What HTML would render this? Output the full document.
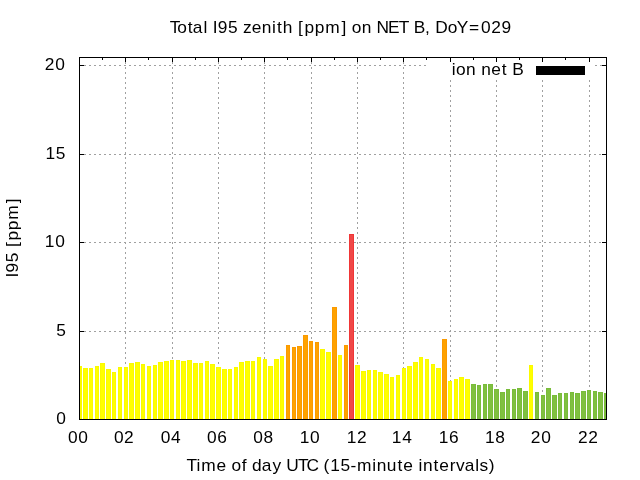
<!DOCTYPE html><html><head><meta charset="utf-8"><style>html,body{margin:0;padding:0;background:#fff;width:640px;height:480px;overflow:hidden}svg{display:block;will-change:transform}text{font-family:"Liberation Sans",sans-serif;fill:#000}</style></head><body>
<svg width="640" height="480" viewBox="0 0 640 480">
<rect x="0" y="0" width="640" height="480" fill="#fff"/>
<line x1="79" y1="154.5" x2="606" y2="154.5" stroke="#a0a0a0" stroke-width="1" stroke-dasharray="2 3"/>
<line x1="79" y1="242.5" x2="606" y2="242.5" stroke="#a0a0a0" stroke-width="1" stroke-dasharray="2 3"/>
<line x1="79" y1="331.5" x2="606" y2="331.5" stroke="#a0a0a0" stroke-width="1" stroke-dasharray="2 3"/>
<line x1="79" y1="65.5" x2="427" y2="65.5" stroke="#a0a0a0" stroke-width="1" stroke-dasharray="2 3"/>
<line x1="595" y1="65.5" x2="606" y2="65.5" stroke="#a0a0a0" stroke-width="1" stroke-dasharray="2 3"/>
<line x1="125.5" y1="57" x2="125.5" y2="419" stroke="#a0a0a0" stroke-width="1" stroke-dasharray="2 3"/>
<line x1="172.5" y1="57" x2="172.5" y2="419" stroke="#a0a0a0" stroke-width="1" stroke-dasharray="2 3"/>
<line x1="218.5" y1="57" x2="218.5" y2="419" stroke="#a0a0a0" stroke-width="1" stroke-dasharray="2 3"/>
<line x1="264.5" y1="57" x2="264.5" y2="419" stroke="#a0a0a0" stroke-width="1" stroke-dasharray="2 3"/>
<line x1="311.5" y1="57" x2="311.5" y2="419" stroke="#a0a0a0" stroke-width="1" stroke-dasharray="2 3"/>
<line x1="357.5" y1="57" x2="357.5" y2="419" stroke="#a0a0a0" stroke-width="1" stroke-dasharray="2 3"/>
<line x1="403.5" y1="57" x2="403.5" y2="419" stroke="#a0a0a0" stroke-width="1" stroke-dasharray="2 3"/>
<line x1="450.5" y1="80" x2="450.5" y2="419" stroke="#a0a0a0" stroke-width="1" stroke-dasharray="2 3"/>
<line x1="496.5" y1="80" x2="496.5" y2="419" stroke="#a0a0a0" stroke-width="1" stroke-dasharray="2 3"/>
<line x1="542.5" y1="80" x2="542.5" y2="419" stroke="#a0a0a0" stroke-width="1" stroke-dasharray="2 3"/>
<line x1="589.5" y1="80" x2="589.5" y2="419" stroke="#a0a0a0" stroke-width="1" stroke-dasharray="2 3"/>
<path d="M80 65.5H84M606 65.5H602M80 154.5H84M606 154.5H602M80 242.5H84M606 242.5H602M80 331.5H84M606 331.5H602M102.5 57V60M125.5 57V62M148.5 57V60M172.5 57V62M195.5 57V60M218.5 57V62M241.5 57V60M264.5 57V62M287.5 57V60M311.5 57V62M334.5 57V60M357.5 57V62M380.5 57V60M403.5 57V62M426.5 57V60M450.5 57V62M473.5 57V60M496.5 57V62M519.5 57V60M542.5 57V62M565.5 57V60M589.5 57V62" stroke="#000" stroke-width="1" fill="none"/>
<rect x="80" y="366" width="2" height="53" fill="#fafa00"/>
<rect x="83" y="368" width="5" height="51" fill="#fafa00"/>
<rect x="84" y="369" width="3" height="50" fill="#ffff00"/>
<rect x="89" y="368" width="4" height="51" fill="#fafa00"/>
<rect x="90" y="369" width="2" height="50" fill="#ffff00"/>
<rect x="95" y="366" width="4" height="53" fill="#fafa00"/>
<rect x="96" y="367" width="2" height="52" fill="#ffff00"/>
<rect x="100" y="363" width="5" height="56" fill="#fafa00"/>
<rect x="101" y="364" width="3" height="55" fill="#ffff00"/>
<rect x="106" y="369" width="5" height="50" fill="#fafa00"/>
<rect x="107" y="370" width="3" height="49" fill="#ffff00"/>
<rect x="112" y="372" width="4" height="47" fill="#fafa00"/>
<rect x="113" y="373" width="2" height="46" fill="#ffff00"/>
<rect x="118" y="367" width="4" height="52" fill="#fafa00"/>
<rect x="119" y="368" width="2" height="51" fill="#ffff00"/>
<rect x="124" y="367" width="4" height="52" fill="#fafa00"/>
<rect x="125" y="368" width="2" height="51" fill="#ffff00"/>
<rect x="129" y="363" width="5" height="56" fill="#fafa00"/>
<rect x="130" y="364" width="3" height="55" fill="#ffff00"/>
<rect x="135" y="362" width="5" height="57" fill="#fafa00"/>
<rect x="136" y="363" width="3" height="56" fill="#ffff00"/>
<rect x="141" y="364" width="4" height="55" fill="#fafa00"/>
<rect x="142" y="365" width="2" height="54" fill="#ffff00"/>
<rect x="147" y="366" width="4" height="53" fill="#fafa00"/>
<rect x="148" y="367" width="2" height="52" fill="#ffff00"/>
<rect x="153" y="365" width="4" height="54" fill="#fafa00"/>
<rect x="154" y="366" width="2" height="53" fill="#ffff00"/>
<rect x="158" y="362" width="5" height="57" fill="#fafa00"/>
<rect x="159" y="363" width="3" height="56" fill="#ffff00"/>
<rect x="164" y="361" width="5" height="58" fill="#fafa00"/>
<rect x="165" y="362" width="3" height="57" fill="#ffff00"/>
<rect x="170" y="360" width="4" height="59" fill="#fafa00"/>
<rect x="171" y="361" width="2" height="58" fill="#ffff00"/>
<rect x="176" y="360" width="4" height="59" fill="#fafa00"/>
<rect x="177" y="361" width="2" height="58" fill="#ffff00"/>
<rect x="181" y="361" width="5" height="58" fill="#fafa00"/>
<rect x="182" y="362" width="3" height="57" fill="#ffff00"/>
<rect x="187" y="360" width="5" height="59" fill="#fafa00"/>
<rect x="188" y="361" width="3" height="58" fill="#ffff00"/>
<rect x="193" y="363" width="5" height="56" fill="#fafa00"/>
<rect x="194" y="364" width="3" height="55" fill="#ffff00"/>
<rect x="199" y="363" width="4" height="56" fill="#fafa00"/>
<rect x="200" y="364" width="2" height="55" fill="#ffff00"/>
<rect x="205" y="361" width="4" height="58" fill="#fafa00"/>
<rect x="206" y="362" width="2" height="57" fill="#ffff00"/>
<rect x="210" y="364" width="5" height="55" fill="#fafa00"/>
<rect x="211" y="365" width="3" height="54" fill="#ffff00"/>
<rect x="216" y="367" width="5" height="52" fill="#fafa00"/>
<rect x="217" y="368" width="3" height="51" fill="#ffff00"/>
<rect x="222" y="369" width="5" height="50" fill="#fafa00"/>
<rect x="223" y="370" width="3" height="49" fill="#ffff00"/>
<rect x="228" y="369" width="4" height="50" fill="#fafa00"/>
<rect x="229" y="370" width="2" height="49" fill="#ffff00"/>
<rect x="234" y="367" width="4" height="52" fill="#fafa00"/>
<rect x="235" y="368" width="2" height="51" fill="#ffff00"/>
<rect x="239" y="362" width="5" height="57" fill="#fafa00"/>
<rect x="240" y="363" width="3" height="56" fill="#ffff00"/>
<rect x="245" y="361" width="5" height="58" fill="#fafa00"/>
<rect x="246" y="362" width="3" height="57" fill="#ffff00"/>
<rect x="251" y="361" width="4" height="58" fill="#fafa00"/>
<rect x="252" y="362" width="2" height="57" fill="#ffff00"/>
<rect x="257" y="357" width="4" height="62" fill="#fafa00"/>
<rect x="258" y="358" width="2" height="61" fill="#ffff00"/>
<rect x="263" y="359" width="4" height="60" fill="#fafa00"/>
<rect x="264" y="360" width="2" height="59" fill="#ffff00"/>
<rect x="268" y="366" width="5" height="53" fill="#fafa00"/>
<rect x="269" y="367" width="3" height="52" fill="#ffff00"/>
<rect x="274" y="359" width="5" height="60" fill="#fafa00"/>
<rect x="275" y="360" width="3" height="59" fill="#ffff00"/>
<rect x="280" y="356" width="4" height="63" fill="#fafa00"/>
<rect x="281" y="357" width="2" height="62" fill="#ffff00"/>
<rect x="286" y="345" width="4" height="74" fill="#fa9a00"/>
<rect x="287" y="346" width="2" height="73" fill="#ffa200"/>
<rect x="292" y="347" width="4" height="72" fill="#fa9a00"/>
<rect x="293" y="348" width="2" height="71" fill="#ffa200"/>
<rect x="297" y="346" width="5" height="73" fill="#fa9a00"/>
<rect x="298" y="347" width="3" height="72" fill="#ffa200"/>
<rect x="303" y="335" width="5" height="84" fill="#fa9a00"/>
<rect x="304" y="336" width="3" height="83" fill="#ffa200"/>
<rect x="309" y="341" width="4" height="78" fill="#fa9a00"/>
<rect x="310" y="342" width="2" height="77" fill="#ffa200"/>
<rect x="315" y="342" width="4" height="77" fill="#fa9a00"/>
<rect x="316" y="343" width="2" height="76" fill="#ffa200"/>
<rect x="320" y="349" width="5" height="70" fill="#fafa00"/>
<rect x="321" y="350" width="3" height="69" fill="#ffff00"/>
<rect x="326" y="352" width="5" height="67" fill="#fafa00"/>
<rect x="327" y="353" width="3" height="66" fill="#ffff00"/>
<rect x="332" y="307" width="5" height="112" fill="#fa9a00"/>
<rect x="333" y="308" width="3" height="111" fill="#ffa200"/>
<rect x="338" y="355" width="4" height="64" fill="#fafa00"/>
<rect x="339" y="356" width="2" height="63" fill="#ffff00"/>
<rect x="344" y="345" width="4" height="74" fill="#fa9a00"/>
<rect x="345" y="346" width="2" height="73" fill="#ffa200"/>
<rect x="349" y="234" width="5" height="185" fill="#f03636"/>
<rect x="350" y="235" width="3" height="184" fill="#f04848"/>
<rect x="355" y="365" width="5" height="54" fill="#fafa00"/>
<rect x="356" y="366" width="3" height="53" fill="#ffff00"/>
<rect x="361" y="371" width="5" height="48" fill="#fafa00"/>
<rect x="362" y="372" width="3" height="47" fill="#ffff00"/>
<rect x="367" y="370" width="4" height="49" fill="#fafa00"/>
<rect x="368" y="371" width="2" height="48" fill="#ffff00"/>
<rect x="373" y="370" width="4" height="49" fill="#fafa00"/>
<rect x="374" y="371" width="2" height="48" fill="#ffff00"/>
<rect x="378" y="372" width="5" height="47" fill="#fafa00"/>
<rect x="379" y="373" width="3" height="46" fill="#ffff00"/>
<rect x="384" y="374" width="5" height="45" fill="#fafa00"/>
<rect x="385" y="375" width="3" height="44" fill="#ffff00"/>
<rect x="390" y="377" width="4" height="42" fill="#fafa00"/>
<rect x="391" y="378" width="2" height="41" fill="#ffff00"/>
<rect x="396" y="375" width="4" height="44" fill="#fafa00"/>
<rect x="397" y="376" width="2" height="43" fill="#ffff00"/>
<rect x="402" y="368" width="4" height="51" fill="#fafa00"/>
<rect x="403" y="369" width="2" height="50" fill="#ffff00"/>
<rect x="407" y="366" width="5" height="53" fill="#fafa00"/>
<rect x="408" y="367" width="3" height="52" fill="#ffff00"/>
<rect x="413" y="362" width="5" height="57" fill="#fafa00"/>
<rect x="414" y="363" width="3" height="56" fill="#ffff00"/>
<rect x="419" y="357" width="4" height="62" fill="#fafa00"/>
<rect x="420" y="358" width="2" height="61" fill="#ffff00"/>
<rect x="425" y="359" width="4" height="60" fill="#fafa00"/>
<rect x="426" y="360" width="2" height="59" fill="#ffff00"/>
<rect x="431" y="364" width="4" height="55" fill="#fafa00"/>
<rect x="432" y="365" width="2" height="54" fill="#ffff00"/>
<rect x="436" y="368" width="5" height="51" fill="#fafa00"/>
<rect x="437" y="369" width="3" height="50" fill="#ffff00"/>
<rect x="442" y="339" width="5" height="80" fill="#fa9a00"/>
<rect x="443" y="340" width="3" height="79" fill="#ffa200"/>
<rect x="448" y="381" width="4" height="38" fill="#fafa00"/>
<rect x="449" y="382" width="2" height="37" fill="#ffff00"/>
<rect x="454" y="379" width="4" height="40" fill="#fafa00"/>
<rect x="455" y="380" width="2" height="39" fill="#ffff00"/>
<rect x="459" y="377" width="5" height="42" fill="#fafa00"/>
<rect x="460" y="378" width="3" height="41" fill="#ffff00"/>
<rect x="465" y="379" width="5" height="40" fill="#fafa00"/>
<rect x="466" y="380" width="3" height="39" fill="#ffff00"/>
<rect x="471" y="384" width="5" height="35" fill="#79bc3a"/>
<rect x="472" y="385" width="3" height="34" fill="#80c040"/>
<rect x="477" y="385" width="4" height="34" fill="#79bc3a"/>
<rect x="478" y="386" width="2" height="33" fill="#80c040"/>
<rect x="483" y="384" width="4" height="35" fill="#79bc3a"/>
<rect x="484" y="385" width="2" height="34" fill="#80c040"/>
<rect x="488" y="384" width="5" height="35" fill="#79bc3a"/>
<rect x="489" y="385" width="3" height="34" fill="#80c040"/>
<rect x="494" y="389" width="5" height="30" fill="#79bc3a"/>
<rect x="495" y="390" width="3" height="29" fill="#80c040"/>
<rect x="500" y="392" width="5" height="27" fill="#79bc3a"/>
<rect x="501" y="393" width="3" height="26" fill="#80c040"/>
<rect x="506" y="389" width="4" height="30" fill="#79bc3a"/>
<rect x="507" y="390" width="2" height="29" fill="#80c040"/>
<rect x="512" y="389" width="4" height="30" fill="#79bc3a"/>
<rect x="513" y="390" width="2" height="29" fill="#80c040"/>
<rect x="517" y="388" width="5" height="31" fill="#79bc3a"/>
<rect x="518" y="389" width="3" height="30" fill="#80c040"/>
<rect x="523" y="391" width="5" height="28" fill="#79bc3a"/>
<rect x="524" y="392" width="3" height="27" fill="#80c040"/>
<rect x="529" y="365" width="4" height="54" fill="#fafa00"/>
<rect x="530" y="366" width="2" height="53" fill="#ffff00"/>
<rect x="535" y="392" width="4" height="27" fill="#79bc3a"/>
<rect x="536" y="393" width="2" height="26" fill="#80c040"/>
<rect x="541" y="395" width="4" height="24" fill="#79bc3a"/>
<rect x="542" y="396" width="2" height="23" fill="#80c040"/>
<rect x="546" y="388" width="5" height="31" fill="#79bc3a"/>
<rect x="547" y="389" width="3" height="30" fill="#80c040"/>
<rect x="552" y="395" width="5" height="24" fill="#79bc3a"/>
<rect x="553" y="396" width="3" height="23" fill="#80c040"/>
<rect x="558" y="393" width="4" height="26" fill="#79bc3a"/>
<rect x="559" y="394" width="2" height="25" fill="#80c040"/>
<rect x="564" y="393" width="4" height="26" fill="#79bc3a"/>
<rect x="565" y="394" width="2" height="25" fill="#80c040"/>
<rect x="570" y="392" width="4" height="27" fill="#79bc3a"/>
<rect x="571" y="393" width="2" height="26" fill="#80c040"/>
<rect x="575" y="393" width="5" height="26" fill="#79bc3a"/>
<rect x="576" y="394" width="3" height="25" fill="#80c040"/>
<rect x="581" y="391" width="5" height="28" fill="#79bc3a"/>
<rect x="582" y="392" width="3" height="27" fill="#80c040"/>
<rect x="587" y="390" width="4" height="29" fill="#79bc3a"/>
<rect x="588" y="391" width="2" height="28" fill="#80c040"/>
<rect x="593" y="391" width="4" height="28" fill="#79bc3a"/>
<rect x="594" y="392" width="2" height="27" fill="#80c040"/>
<rect x="598" y="392" width="5" height="27" fill="#79bc3a"/>
<rect x="599" y="393" width="3" height="26" fill="#80c040"/>
<rect x="604" y="393" width="2" height="26" fill="#79bc3a"/>
<rect x="79.5" y="57.5" width="527" height="362" fill="none" stroke="#000" stroke-width="1"/>
<text transform="scale(1.02 1)" x="166.40 173.83 184.07 189.08 199.55 201.55 208.61 213.54 223.57 225.57 238.37 246.85 256.71 266.71 271.48 277.26 279.26 292.09 298.53 308.55 318.84 334.92 336.92 344.85 354.71 356.71 369.18 380.49 390.84 392.84 405.57 416.68 418.68 426.68 438.99 447.69 459.83 471.69 481.53 491.73" y="33" font-size="17">Total I95 zenith [ppm] on NET B, DoY=029</text>
<text transform="scale(1.02 1)" x="182.74 192.58 197.30 212.19 214.19 226.86 237.03 239.03 247.18 256.51 267.09 269.09 280.67 292.22 300.58 302.58 317.16 323.70 333.77 343.60 349.93 364.97 369.35 379.29 389.74 395.40 397.40 410.28 414.66 425.05 430.71 440.96 447.17 455.59 466.06 470.12 479.05" y="470.6" font-size="17">Time of day UTC (15-minute intervals)</text>
<text transform="scale(1.02 1)" x="442.81 446.99 456.85 458.85 471.87 481.73 491.97 493.97 502.20" y="74.6" font-size="17">ion net B</text>
<text transform="translate(17.7 277.47) rotate(-90) scale(1.02 1)" x="-0.03 4.90 14.93 16.93 29.85 36.29 46.31 56.60 72.68" y="0" font-size="17">I95 [ppm]</text>
<text transform="scale(1.02 1)" x="43.81 54.06" y="69.7" font-size="17">20</text>
<text transform="scale(1.02 1)" x="44.53 54.60" y="158.7" font-size="17">15</text>
<text transform="scale(1.02 1)" x="43.98 54.11" y="246.7" font-size="17">10</text>
<text transform="scale(1.02 1)" x="55.04" y="335.7" font-size="17">5</text>
<text transform="scale(1.02 1)" x="55.18" y="423.7" font-size="17">0</text>
<text transform="scale(1.02 1)" x="66.60 76.64" y="442.9" font-size="17">00</text>
<text transform="scale(1.02 1)" x="111.85 121.68" y="442.9" font-size="17">02</text>
<text transform="scale(1.02 1)" x="157.70 167.74" y="442.9" font-size="17">04</text>
<text transform="scale(1.02 1)" x="202.97 213.02" y="442.9" font-size="17">06</text>
<text transform="scale(1.02 1)" x="248.23 258.27" y="442.9" font-size="17">08</text>
<text transform="scale(1.02 1)" x="293.86 304.00" y="442.9" font-size="17">10</text>
<text transform="scale(1.02 1)" x="340.08 350.00" y="442.9" font-size="17">12</text>
<text transform="scale(1.02 1)" x="384.15 394.28" y="442.9" font-size="17">14</text>
<text transform="scale(1.02 1)" x="430.16 440.29" y="442.9" font-size="17">16</text>
<text transform="scale(1.02 1)" x="475.42 485.55" y="442.9" font-size="17">18</text>
<text transform="scale(1.02 1)" x="520.37 530.62" y="442.9" font-size="17">20</text>
<text transform="scale(1.02 1)" x="566.73 576.77" y="442.9" font-size="17">22</text>
<rect x="536" y="66" width="49" height="9" fill="#000"/>
</svg></body></html>
